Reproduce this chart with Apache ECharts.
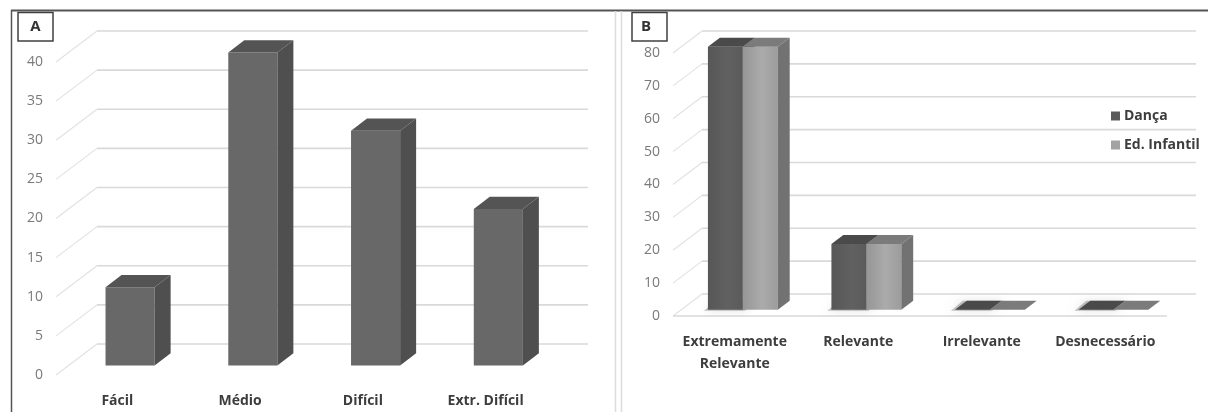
<!DOCTYPE html>
<html>
<head>
<meta charset="utf-8">
<script src="https://cdn.jsdelivr.net/npm/echarts@6/dist/echarts.min.js"></script>
<style>
  html, body { margin: 0; padding: 0; background: #fff; }
  #chart { width: 1208px; height: 412px; }
</style>
</head>
<body>
<div id="chart"></div>
<script>
// Panel A: perceived difficulty
const difficultyCategories = ['Fácil', 'Médio', 'Difícil', 'Extr. Difícil'];
const difficultyValues = [10, 40, 30, 20];
const difficultyTicks = [0, 5, 10, 15, 20, 25, 30, 35, 40];

// Panel B: perceived relevance, two groups
const relevanceCategories = ['Extremamente\nRelevante', 'Relevante', 'Irrelevante', 'Desnecessário'];
const dancaValues = [80, 20, 0, 0];
const edInfantilValues = [80, 20, 0, 0];
const relevanceTicks = [0, 10, 20, 30, 40, 50, 60, 70, 80];

const FONT = '"Open Sans", "Liberation Sans", sans-serif';

// Back wall of the oblique 3D box: a diagonal from the front edge plus a horizontal line on the wall
function wallRenderer(depth, nCats, drawFrontFloor) {
  return function (params, api) {
    const v = api.value(1);
    const bw = api.size([1, 0])[0];
    const p0 = api.coord([0, v]);
    const pN = api.coord([nCats - 1, v]);
    const xl = p0[0] - bw / 2;
    const xr = pN[0] + bw / 2;
    const y = p0[1];
    const children = [
      { type: 'line', shape: { x1: xl, y1: y, x2: xl + depth[0], y2: y + depth[1] },
        style: { stroke: '#e2e2e2', lineWidth: 1.2 } },
      { type: 'line', shape: { x1: xl + depth[0], y1: y + depth[1], x2: xr + depth[0], y2: y + depth[1] },
        style: { stroke: '#d9d9d9', lineWidth: 1.6 } }
    ];
    if (drawFrontFloor && v === 0) {
      children.push({ type: 'line', shape: { x1: xl, y1: y, x2: xr, y2: y },
        style: { stroke: '#d9d9d9', lineWidth: 1.6 } });
    }
    return { type: 'group', children: children, silent: true };
  };
}

// Oblique 3D column: front face, top face and right side face
function barRenderer(cfg) {
  return function (params, api) {
    const ci = api.value(0);
    const v = api.value(1);
    const bw = api.size([1, 0])[0];
    const base = api.coord([ci, 0]);
    const top = api.coord([ci, v]);
    const w = bw * cfg.widthFrac;
    const x = base[0] + cfg.f0 * cfg.depth[0] + cfg.slot * w;
    const yBot = base[1] + cfg.f0 * cfg.depth[1];
    const yTop = top[1] + cfg.f0 * cfg.depth[1];
    const sdx = (cfg.f1 - cfg.f0) * cfg.depth[0];
    const sdy = (cfg.f1 - cfg.f0) * cfg.depth[1];
    const children = [];
    if (cfg.shadow) {
      children.push({
        type: 'polygon',
        shape: { points: [[x - 4, yBot + 1], [x + w + 2, yBot + 1], [x + w + sdx + 2, yBot + sdy], [x + sdx - 4, yBot + sdy]] },
        style: { fill: 'rgba(0,0,0,0.22)', shadowBlur: 8, shadowColor: 'rgba(0,0,0,0.5)' }
      });
    }
    children.push({
      type: 'rect',
      shape: { x: x, y: yTop, width: w, height: Math.max(0, yBot - yTop) },
      style: { fill: cfg.front }
    });
    children.push({
      type: 'polygon',
      shape: { points: [[x + w, yTop], [x + w + sdx, yTop + sdy], [x + w + sdx, yBot + sdy], [x + w, yBot]] },
      style: { fill: cfg.side }
    });
    children.push({
      type: 'polygon',
      shape: { points: [[x, yTop], [x + w, yTop], [x + w + sdx, yTop + sdy], [x + sdx, yTop + sdy]] },
      style: { fill: cfg.top }
    });
    return { type: 'group', children: children };
  };
}

const depthA = [41, -31];
const depthB = [29, -22];

const yLabel = { color: '#7a7a7a', fontSize: 14, fontFamily: FONT, margin: 13 };
const xLabel = { color: '#3d3d3d', fontSize: 14, fontWeight: 'bold', fontFamily: FONT, margin: 15, interval: 0, lineHeight: 22 };

const option = {
  animation: false,
  backgroundColor: '#ffffff',
  grid: [
    { left: 56, right: 661, top: 62, bottom: 35 },
    { left: 673, right: 41, top: 53, bottom: 96 }
  ],
  xAxis: [
    { type: 'category', gridIndex: 0, data: difficultyCategories,
      axisLine: { show: false }, axisTick: { show: false }, axisLabel: xLabel },
    { type: 'category', gridIndex: 1, data: relevanceCategories,
      axisLine: { show: false }, axisTick: { show: false }, axisLabel: xLabel }
  ],
  yAxis: [
    { type: 'value', gridIndex: 0, min: 0, max: 40, interval: 5,
      axisLine: { show: false }, axisTick: { show: false }, splitLine: { show: false }, axisLabel: yLabel },
    { type: 'value', gridIndex: 1, min: 0, max: 80, interval: 10,
      axisLine: { show: false }, axisTick: { show: false }, splitLine: { show: false }, axisLabel: yLabel }
  ],
  legend: {
    data: ['Dança', 'Ed. Infantil'],
    orient: 'vertical',
    left: 1106,
    top: 104,
    icon: 'rect',
    itemWidth: 9,
    itemHeight: 9,
    itemGap: 15,
    selectedMode: false,
    textStyle: { color: '#3d3d3d', fontSize: 14, fontWeight: 'bold', fontFamily: FONT, padding: [0, 0, 0, -1] }
  },
  series: [
    { type: 'custom', name: 'wallA', xAxisIndex: 0, yAxisIndex: 0, silent: true, z: 1,
      renderItem: wallRenderer(depthA, difficultyCategories.length, false),
      data: difficultyTicks.map(t => [0, t]) },
    { type: 'custom', name: 'wallB', xAxisIndex: 1, yAxisIndex: 1, silent: true, z: 1,
      renderItem: wallRenderer(depthB, relevanceCategories.length, true),
      data: relevanceTicks.map(t => [0, t]) },
    { type: 'custom', name: 'Dificuldade', xAxisIndex: 0, yAxisIndex: 0, z: 3,
      itemStyle: { color: '#686868' },
      renderItem: barRenderer({ depth: depthA, f0: 0.31, f1: 0.7, widthFrac: 0.4, slot: -0.5,
        front: '#686868', side: '#4f4f4f', top: '#545454', shadow: false }),
      data: difficultyValues.map((v, i) => [i, v]) },
    { type: 'custom', name: 'Dança', xAxisIndex: 1, yAxisIndex: 1, z: 3,
      itemStyle: { color: '#5a5a5a' },
      renderItem: barRenderer({ depth: depthB, f0: 0.28, f1: 0.69, widthFrac: 0.283, slot: -1,
        front: new echarts.graphic.LinearGradient(0, 0, 1, 0, [
          { offset: 0, color: '#575757' }, { offset: 0.6, color: '#616161' }, { offset: 1, color: '#5a5a5a' }]),
        side: '#4a4a4a', top: '#4a4a4a', shadow: true }),
      data: dancaValues.map((v, i) => [i, v]) },
    { type: 'custom', name: 'Ed. Infantil', xAxisIndex: 1, yAxisIndex: 1, z: 4,
      itemStyle: { color: '#a3a3a3' },
      renderItem: barRenderer({ depth: depthB, f0: 0.28, f1: 0.69, widthFrac: 0.283, slot: 0,
        front: new echarts.graphic.LinearGradient(0, 0, 1, 0, [
          { offset: 0, color: '#969696' }, { offset: 0.55, color: '#ababab' }, { offset: 1, color: '#9c9c9c' }]),
        side: '#727272', top: '#7b7b7b', shadow: false }),
      data: edInfantilValues.map((v, i) => [i, v]) }
  ],
  graphic: [
    // frame lines
    { type: 'line', silent: true, z: 10, shape: { x1: 11, y1: 10.5, x2: 1208, y2: 10.5 },
      style: { stroke: '#555555', lineWidth: 2 } },
    { type: 'line', silent: true, z: 10, shape: { x1: 11.5, y1: 10, x2: 11.5, y2: 412 },
      style: { stroke: '#555555', lineWidth: 1.5 } },
    { type: 'line', silent: true, z: 10, shape: { x1: 615.5, y1: 11, x2: 615.5, y2: 412 },
      style: { stroke: '#dcdcdc', lineWidth: 1.5 } },
    { type: 'line', silent: true, z: 10, shape: { x1: 621.5, y1: 11, x2: 621.5, y2: 412 },
      style: { stroke: '#dcdcdc', lineWidth: 1.5 } },
    // panel tags
    { type: 'rect', silent: true, z: 10, shape: { x: 18, y: 12.5, width: 35, height: 28.5 },
      style: { fill: '#ffffff', stroke: '#404040', lineWidth: 1.5 } },
    { type: 'text', silent: true, z: 11, x: 35.5, y: 27, style: { text: 'A', fill: '#333333',
      font: 'bold 15px ' + FONT, align: 'center', verticalAlign: 'middle' } },
    { type: 'rect', silent: true, z: 10, shape: { x: 632, y: 12.5, width: 35, height: 28.5 },
      style: { fill: '#ffffff', stroke: '#404040', lineWidth: 1.5 } },
    { type: 'text', silent: true, z: 11, x: 646, y: 27, style: { text: 'B', fill: '#333333',
      font: 'bold 15px ' + FONT, align: 'center', verticalAlign: 'middle' } }
  ]
};

const chart = echarts.init(document.getElementById('chart'), null, { renderer: 'canvas' });
chart.setOption(option);
</script>
</body>
</html>
